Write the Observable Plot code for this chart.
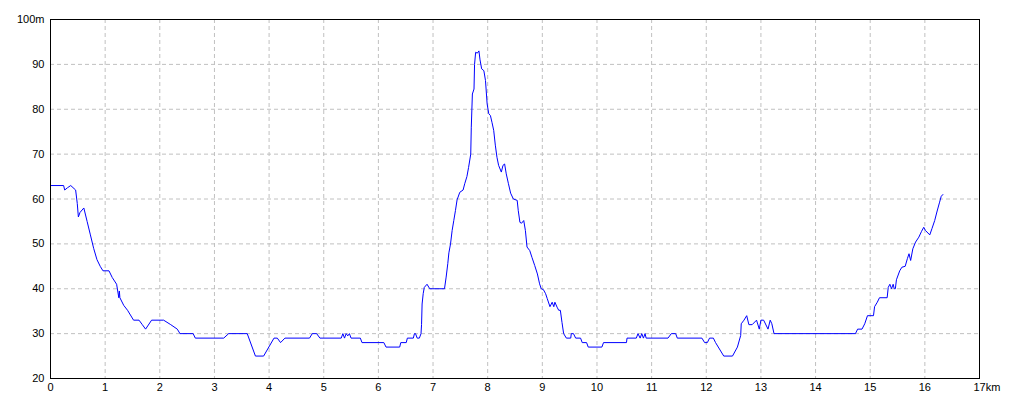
<!DOCTYPE html>
<html><head><meta charset="utf-8">
<script src="https://cdn.jsdelivr.net/npm/d3@7"></script>
<script src="https://cdn.jsdelivr.net/npm/@observablehq/plot@0.6"></script>
<style>body{margin:0;background:#fff}</style>
</head><body><div id="chart"></div>
<script>
const distanceKm = [0,0.24,0.26,0.31,0.37,0.46,0.49,0.51,0.54,0.61,0.67,0.73,0.79,0.85,0.91,0.96,1.07,1.13,1.21,1.25,1.26,1.27,1.34,1.41,1.52,1.62,1.68,1.74,1.85,2.07,2.2,2.32,2.37,2.61,2.65,3.17,3.26,3.6,3.75,3.9,4.09,4.15,4.21,4.29,4.74,4.79,4.87,4.93,5.32,5.35,5.38,5.41,5.44,5.47,5.5,5.67,5.7,6.1,6.14,6.39,6.41,6.51,6.53,6.64,6.66,6.68,6.71,6.75,6.78,6.79,6.8,6.82,6.84,6.89,6.94,7.21,7.24,7.27,7.29,7.32,7.35,7.38,7.41,7.44,7.49,7.55,7.58,7.62,7.65,7.69,7.70,7.72,7.75,7.76,7.78,7.81,7.84,7.86,7.89,7.93,7.96,7.99,8.02,8.05,8.08,8.11,8.14,8.17,8.2,8.25,8.28,8.31,8.34,8.38,8.42,8.47,8.54,8.56,8.59,8.62,8.66,8.69,8.72,8.77,8.81,8.86,8.91,8.95,8.98,9.02,9.06,9.09,9.14,9.18,9.21,9.23,9.27,9.3,9.33,9.36,9.39,9.44,9.52,9.53,9.57,9.61,9.70,9.73,9.81,9.84,10.09,10.12,10.54,10.55,10.72,10.75,10.79,10.82,10.85,10.88,10.9,11.3,11.36,11.44,11.47,11.92,11.97,12.02,12.06,12.13,12.17,12.23,12.32,12.48,12.57,12.63,12.64,12.69,12.74,12.78,12.84,12.92,12.97,13.0,13.05,13.13,13.17,13.2,13.24,14.73,14.77,14.85,14.9,14.95,15.06,15.08,15.13,15.17,15.31,15.33,15.36,15.39,15.42,15.44,15.46,15.48,15.54,15.58,15.64,15.68,15.71,15.74,15.78,15.83,15.89,15.94,15.98,16.01,16.09,16.13,16.18,16.22,16.27,16.30,16.33];
const elevationM = [63,63,62,62.5,63,62,59,56,57,58,55,52,49,46.5,45,44,44,42.5,41,38,39.5,38,36.3,35.2,33,33,32,31,33,33,32,31,30,30,29,29,30,30,25,25,29,29,28,29,29,30,30,29,29,30,29,30,29.5,30,29,29,28,28,27,27,28,28,29,29,30,30,29,29,30,32,36.6,38.9,40.3,41,40,40,42.6,45.6,48,50,53,55.2,57.4,59.8,61.5,62,63.4,65,67,70,76,83.4,84.5,90,92.7,92.5,93,91,89,88.6,86.4,81.2,79,78.6,77,75.3,72,69.3,67.5,66,67.5,67.8,65.6,63.4,61.3,60,59.7,57.4,54.8,54.6,55.2,53,49.3,48.5,47,45.2,43.3,41.1,40,39.8,38.9,37.8,36,37,36,37,35.9,35.2,35.2,32.5,30,29,29,30,30,29,29,28,28,27,27,28,28,29,29,30,29,30,29,30,29,29,30,30,29,29,28,28,29,29,28,26.8,25,25,27,29.6,32.2,33,34,32,32,33,31,33,33,31,33,32.2,30,30,31,31,32.2,34,34,36,37,38,38,40.3,41,40,41,40,40,42,44,44.8,45,46.7,47.8,46.3,48.9,50.4,51.5,52.8,53.7,53,52,53.4,55.2,57.1,59.3,60.6,61];
const xTicks = [0,1,2,3,4,5,6,7,8,9,10,11,12,13,14,15,16,17];
const yTicks = [20,30,40,50,60,70,80,90,100];
const xUnit = "km";
const yUnit = "m";

const data = distanceKm.map((d, i) => ({km: d, m: elevationM[i]}));
const lastX = xTicks[xTicks.length - 1];
const topY = yTicks[yTicks.length - 1];

const chart = Plot.plot({
  width: 1020,
  height: 408,
  marginLeft: 50,
  marginRight: 41,
  marginTop: 19,
  marginBottom: 30,
  style: {fontFamily: "'Liberation Sans', Arial, sans-serif", fontSize: "11px", background: "#fff", color: "#000"},
  x: {domain: [0, 17]},
  y: {domain: [20, 100]},
  marks: [
    Plot.gridX(xTicks.slice(1, -1), {stroke: "#c0c0c0", strokeOpacity: 1, strokeDasharray: "4,3"}),
    Plot.gridY(yTicks.slice(1, -1), {stroke: "#c0c0c0", strokeOpacity: 1, strokeDasharray: "4,3"}),
    Plot.line(data, {x: "km", y: "m", stroke: "#0000ff", strokeWidth: 1}),
    Plot.frame({stroke: "#000", strokeWidth: 1}),
    Plot.axisX(xTicks.slice(0, -1), {tickSize: 0, tickPadding: 5, label: null, fill: "#000"}),
    Plot.axisX([lastX], {tickSize: 0, tickPadding: 5, label: null, fill: "#000", tickFormat: d => d + xUnit, textAnchor: "start", dx: -6}),
    Plot.axisY(yTicks, {tickSize: 0, tickPadding: 6, label: null, fill: "#000", tickFormat: d => d === topY ? d + yUnit : String(d)})
  ]
});
document.getElementById("chart").append(chart);
</script>
</body></html>
